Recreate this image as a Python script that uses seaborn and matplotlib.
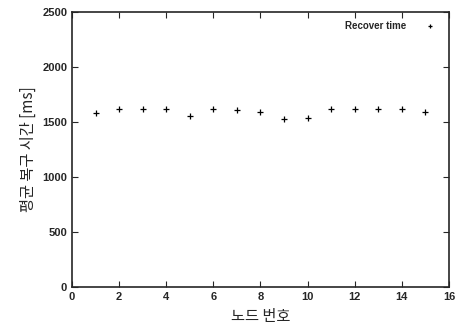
import matplotlib
matplotlib.use('Agg')
import matplotlib.pyplot as plt
import seaborn as sns
import pandas as pd

nodes = [1, 2, 3, 4, 5, 6, 7, 8, 9, 10, 11, 12, 13, 14, 15]
recover_ms = [1584, 1617, 1617, 1620, 1557, 1620, 1611, 1590, 1530, 1536,
              1620, 1620, 1623, 1623, 1590]
x_ticks = [0, 2, 4, 6, 8, 10, 12, 14, 16]
y_ticks = [0, 500, 1000, 1500, 2000, 2500]

sns.set_style('ticks')
plt.rcParams['font.family'] = ['Liberation Sans', 'Noto Sans CJK KR']

df = pd.DataFrame({'node': nodes, 'time': recover_ms})

fig, ax = plt.subplots(figsize=(4.59, 3.27), dpi=100)
sns.scatterplot(x='node', y='time', data=df, ax=ax, marker='+', color='black',
                s=22, linewidth=0.9, label='Recover time')

ax.set_xlim(0, 16)
ax.set_ylim(0, 2500)
ax.set_xticks(x_ticks)
ax.set_yticks(y_ticks)
ax.tick_params(direction='in', top=True, right=True, length=4, width=0.8,
               labelsize=8)
for lbl in ax.get_xticklabels() + ax.get_yticklabels():
    lbl.set_fontweight('bold')
for s in ax.spines.values():
    s.set_linewidth(1.2)
kr = ['Noto Sans CJK KR', 'DejaVu Sans']
ax.set_xlabel('노드 번호', fontsize=11, family=kr)
ax.set_ylabel('평균 복구 시간 [ms]', fontsize=11, family=kr)

leg = ax.legend(loc='upper right', frameon=False, markerfirst=False,
                prop={'size': 7, 'weight': 'bold'}, handletextpad=1.5,
                markerscale=0.6)

fig.subplots_adjust(left=0.157, right=0.978, top=0.963, bottom=0.122)
fig.savefig('out.png', dpi=100)
